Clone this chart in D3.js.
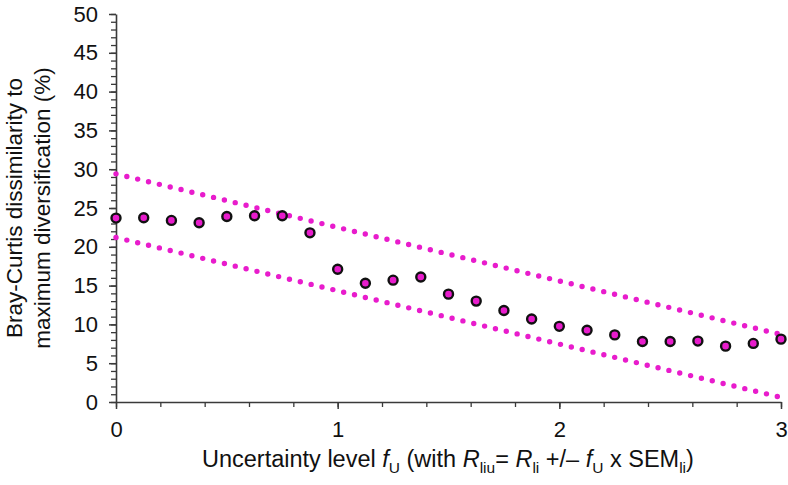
<!DOCTYPE html>
<html><head><meta charset="utf-8">
<script src="https://cdn.jsdelivr.net/npm/d3@7"></script>
<style>
html,body{margin:0;padding:0;background:#fff;}
svg{display:block;font-family:"Liberation Sans",Arial,Helvetica,sans-serif;}
</style></head>
<body>
<svg id="chart" width="788" height="485"></svg>
<script>
// Data
const uncertaintyLevels = [0,0.125,0.25,0.375,0.5,0.625,0.75,0.875,1,1.125,1.25,1.375,1.5,1.625,1.75,1.875,2,2.125,2.25,2.375,2.5,2.625,2.75,2.875,3];
const dissimilarity = [23.7,23.75,23.4,23.1,23.9,24.0,24.0,21.8,17.1,15.3,15.7,16.1,13.9,13.0,11.8,10.7,9.75,9.25,8.65,7.8,7.8,7.85,7.2,7.55,8.1];
const bandX = [0,3];
const upperBand = [29.4,8.7];
const lowerBand = [21.2,0.6];
const xTicks = [0,1,2,3];
const yTicks = [0,5,10,15,20,25,30,35,40,45,50];

const svg = d3.select("#chart");
const m = {left:116, right:7, top:14, bottom:83};
const W = 788, H = 485;
const x = d3.scaleLinear().domain([0,3]).range([m.left, W - m.right]);
const y = d3.scaleLinear().domain([0,50]).range([H - m.bottom, m.top]);
const magenta = "#e81ccc";
const axisColor = "#3a3a3a";

// minor ticks
const gyMinor = svg.append("g").attr("transform",`translate(${m.left},0)`)
  .call(d3.axisLeft(y).tickValues(d3.range(0,51,1)).tickSize(5).tickFormat(""));
const gxMinor = svg.append("g").attr("transform",`translate(0,${y(0)})`)
  .call(d3.axisBottom(x).tickValues(d3.range(0,3.01,0.2)).tickSize(5).tickFormat(""));
[gyMinor,gxMinor].forEach(g=>{g.select(".domain").remove(); g.selectAll("line").attr("stroke",axisColor).attr("stroke-width",1.3);});

// major axes
const gy = svg.append("g").attr("transform",`translate(${m.left},0)`)
  .call(d3.axisLeft(y).tickValues(yTicks).tickSize(7).tickPadding(11).tickSizeOuter(0));
const gx = svg.append("g").attr("transform",`translate(0,${y(0)})`)
  .call(d3.axisBottom(x).tickValues(xTicks).tickSize(7).tickPadding(12).tickSizeOuter(0).tickFormat(d3.format("d")));
[gy,gx].forEach(g=>{
  g.select(".domain").attr("stroke",axisColor).attr("stroke-width",1.6);
  g.selectAll("line").attr("stroke",axisColor).attr("stroke-width",1.5);
  g.selectAll("text").attr("font-size",22).attr("fill","#111").attr("font-family","Liberation Sans, Arial, sans-serif");
});

// dotted bands
const line = d3.line().x(d=>x(d[0])).y(d=>y(d[1]));
[upperBand, lowerBand].forEach(b=>{
  svg.append("path").datum(bandX.map((v,i)=>[v,b[i]]))
    .attr("d",line).attr("fill","none").attr("stroke",magenta)
    .attr("stroke-width",5.4).attr("stroke-linecap","round").attr("stroke-dasharray","0 11.15");
});

// points
svg.append("g").selectAll("circle").data(uncertaintyLevels.map((v,i)=>[v,dissimilarity[i]]))
  .join("circle").attr("cx",d=>x(d[0])).attr("cy",d=>y(d[1])).attr("r",4.5)
  .attr("fill",magenta).attr("stroke","#111").attr("stroke-width",2.4);

// x title
const xt = svg.append("text").attr("x",202).attr("y",467).attr("font-size",23.5).attr("fill","#111");
const parts = [
  ["Uncertainty level ",""],["f","i"],["U","s"],[" (with ",""],["R","i"],["liu","s"],["= ",""],
  ["R","i"],["li","s"],[" +/– ",""],["f","i"],["U","s"],[" x SEM",""],["li","s"],[")",""]
];
let prevSub=false;
parts.forEach(([t,k])=>{
  const ts = xt.append("tspan").text(t);
  if(k==="i") ts.attr("font-style","italic");
  if(k==="s"){ ts.attr("font-size",15.5).attr("dy",prevSub?0:6); prevSub=true; }
  else { if(prevSub) ts.attr("dy",-6); prevSub=false; }
});

// y title
const yt = svg.append("text").attr("transform",`translate(22,${(m.top+y(0))/2}) rotate(-90)`)
  .attr("text-anchor","middle").attr("font-size",22.5).attr("fill","#111");
yt.append("tspan").attr("x",0).attr("dy",0).text("Bray-Curtis dissimilarity to");
yt.append("tspan").attr("x",0).attr("dy",28).text("maximum diversification (%)");
</script>
</body></html>
